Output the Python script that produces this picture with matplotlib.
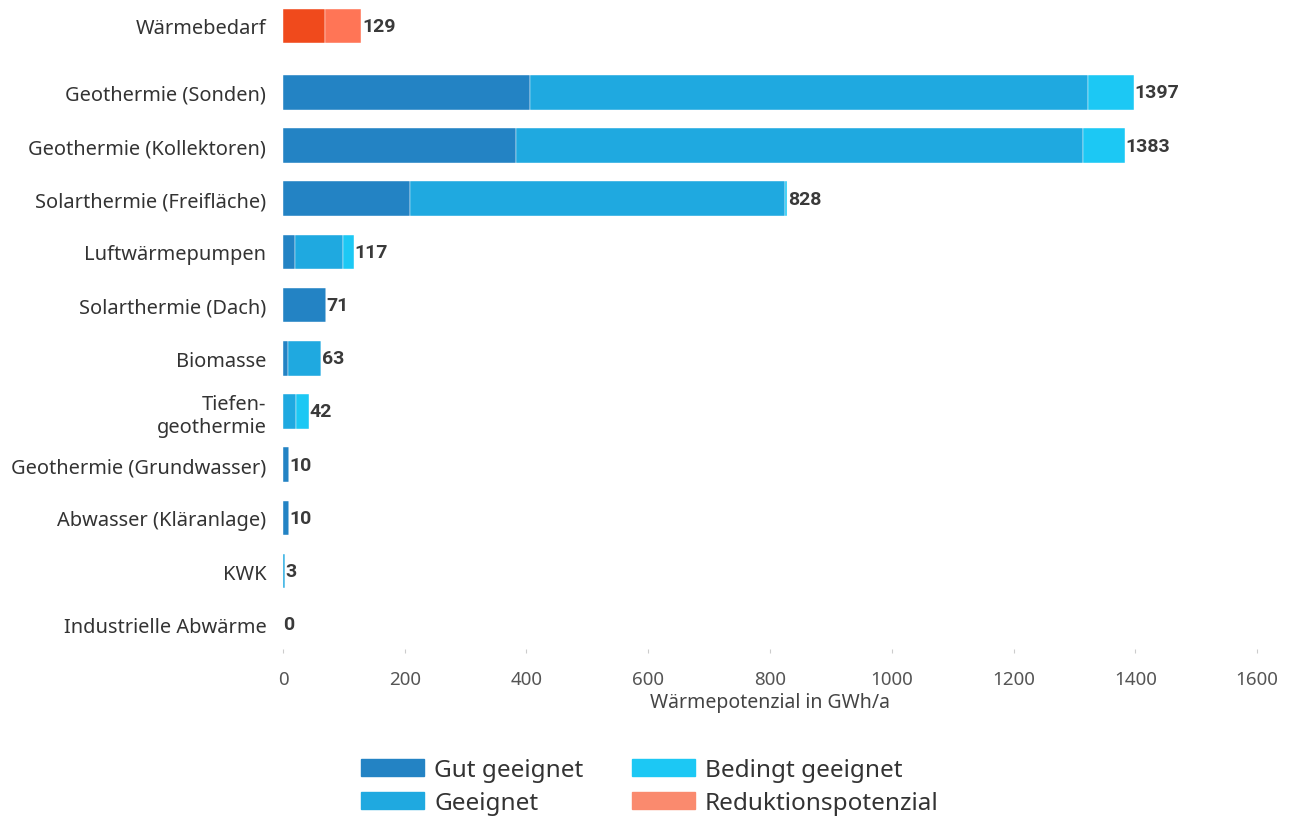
import matplotlib
matplotlib.use('Agg')
import matplotlib.pyplot as plt
import numpy as np

plt.rcParams['font.family'] = ['Noto Sans', 'DejaVu Sans']

# Data (GWh/a)
categories = ["Geothermie (Sonden)",
              "Geothermie (Kollektoren)",
              "Solarthermie (Freifläche)",
              "Luftwärmepumpen",
              "Solarthermie (Dach)",
              "Biomasse",
              "Tiefen-\ngeothermie",
              "Geothermie (Grundwasser)",
              "Abwasser (Kläranlage)",
              "KWK",
              "Industrielle Abwärme"]
gut = [405, 382, 208, 20, 71, 8, 0, 10, 10, 0, 0]
geeignet = [917, 932, 617, 78, 0, 55, 21, 0, 0, 3, 0]
bedingt = [75, 69, 3, 19, 0, 0, 21, 0, 0, 0, 0]
totals = [1397, 1383, 828, 117, 71, 63, 42, 10, 10, 3, 0]

bedarf_label = "Wärmebedarf"
bedarf = [69, 60]   # remaining demand, reduction potential
bedarf_total = 129

c_gut = '#2383C4'
c_geeignet = '#1FA9E0'
c_bedingt = '#1CC8F4'
c_red = '#FA8A6E'

fig = plt.figure(figsize=(12.92, 8.2), dpi=100)
ax = fig.add_axes([0.219, 0.207, 0.754, 0.781])

y = np.arange(len(categories))
h = 0.65
gut = np.array(gut)
geeignet = np.array(geeignet)
bedingt = np.array(bedingt)

ax.barh(y, gut, height=h, color=c_gut, edgecolor='white', linewidth=0.3)
ax.barh(y, geeignet, left=gut, height=h, color=c_geeignet,
        edgecolor='white', linewidth=0.3)
ax.barh(y, bedingt, left=gut + geeignet, height=h, color=c_bedingt,
        edgecolor='white', linewidth=0.3)

yb = -1.25
ax.barh(yb, bedarf[0], height=h, color='#F04A1C', edgecolor='white',
        linewidth=0.3)
ax.barh(yb, bedarf[1], left=bedarf[0], height=h, color='#FF7556',
        edgecolor='white', linewidth=0.3)

vfont = dict(family=['Roboto', 'DejaVu Sans'], fontsize=14,
             fontweight='bold', color='#3a3a3a')
for yi, t in zip(y, totals):
    ax.text(t + 1, yi, str(t), va='center', ha='left', **vfont)
ax.text(bedarf_total + 1, yb, str(bedarf_total), va='center', ha='left',
        **vfont)

ax.set_yticks(list(y) + [yb])
ax.set_yticklabels(categories + [bedarf_label], fontsize=14.4,
                   color='#333333')
ax.set_ylim(10.47, -1.57)
ax.set_xlim(0, 1600)
ax.set_xticks(range(0, 1601, 200))
ax.tick_params(axis='x', labelsize=13.5, colors='#555555', length=3,
               width=0.8, pad=12)
ax.tick_params(axis='x', color='#cccccc')
ax.tick_params(axis='y', length=0, pad=12)
ax.set_xlabel('Wärmepotenzial in GWh/a', fontsize=14, color='#444444',
              labelpad=3)
for s in ax.spines.values():
    s.set_visible(False)

handles = [plt.Rectangle((0, 0), 1, 1, color=c) for c in
           (c_gut, c_geeignet, c_bedingt, c_red)]
fig.legend(handles, ['Gut geeignet', 'Geeignet', 'Bedingt geeignet',
                     'Reduktionspotenzial'],
           loc='center', bbox_to_anchor=(0.503, 0.04), ncol=2, frameon=False,
           fontsize=17.5, handlelength=2.6, handleheight=0.7,
           columnspacing=2.0, handletextpad=0.4, labelspacing=0.38,
           labelcolor='#333333')

fig.savefig('out.png', dpi=100, facecolor='white')
